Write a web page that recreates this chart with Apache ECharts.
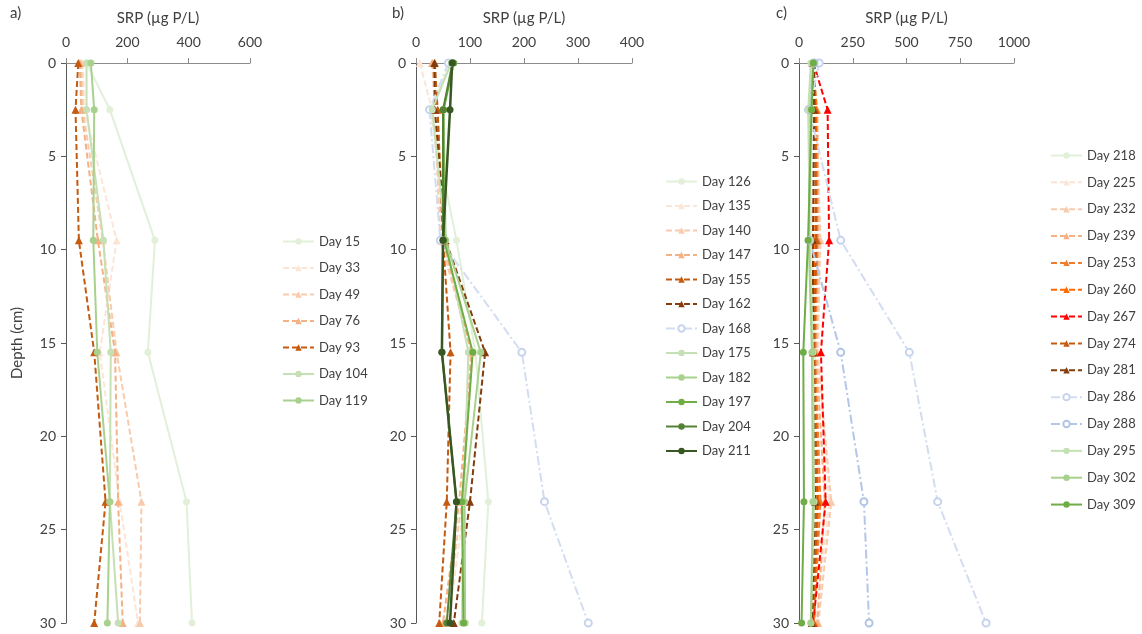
<!DOCTYPE html>
<html>
<head>
<meta charset="utf-8">
<script src="https://cdn.jsdelivr.net/npm/echarts@6/dist/echarts.min.js"></script>
<style>
html,body{margin:0;padding:0;background:#fff;}
#chart{width:1142px;height:634px;}
</style>
</head>
<body>
<div id="chart"></div>
<script>
// ---- data ----
const depths = [0, 2.5, 9.5, 15.5, 23.5, 30];

// panel a (SRP µg P/L)
const daysA = ['Day 15', 'Day 33', 'Day 49', 'Day 76', 'Day 93', 'Day 104', 'Day 119'];
const a15  = [67, 143, 290, 267, 393, 411];
const a33  = [55, 60, 165, 110, 175, 235];
const a49  = [50, 55, 120, 165, 246, 241];
const a76  = [45, 50, 104, 160, 170, 185];
const a93  = [40, 31, 42, 92, 129, 92];
const a104 = [67, 67, 122, 146, 143, 170];
const a119 = [81, 92, 89, 102, 143, 135];

// panel b
const daysB = ['Day 126', 'Day 135', 'Day 140', 'Day 147', 'Day 155', 'Day 162', 'Day 168', 'Day 175', 'Day 182', 'Day 197', 'Day 204', 'Day 211'];
const b126 = [65, 26, 75, 110, 134, 122];
const b135 = [7, 30, 50, 100, 90, 60];
const b140 = [30, 35, 45, 103, 85, 55];
const b147 = [30, 40, 50, 103, 80, 50];
const b155 = [35, 40, 50, 64, 57, 43];
const b162 = [34, 35, 55, 128, 100, 70];
const b168 = [60, 25, 45, 196, 238, 319];
const b175 = [65, 30, 55, 97, 88, 85];
const b182 = [67, 51, 55, 120, 90, 91];
const b197 = [70, 51, 52, 105, 85, 88];
const b204 = [68, 50, 50, 48, 75, 57];
const b211 = [67, 63, 50, 48, 75, 63];

// panel c
const daysC = ['Day 218', 'Day 225', 'Day 232', 'Day 239', 'Day 253', 'Day 260', 'Day 267', 'Day 274', 'Day 281', 'Day 286', 'Day 288', 'Day 295', 'Day 302', 'Day 309'];
const c218 = [60, 50, 60, 75, 65, 60];
const c225 = [60, 85, 95, 90, 140, 80];
const c232 = [62, 80, 100, 85, 150, 90];
const c239 = [65, 85, 90, 80, 120, 85];
const c253 = [65, 80, 85, 75, 100, 70];
const c260 = [68, 80, 75, 70, 90, 70];
const c267 = [67, 133, 140, 102, 124, 66];
const c274 = [70, 75, 80, 70, 85, 65];
const c281 = [70, 70, 65, 65, 75, 60];
const c286 = [94, 47, 194, 513, 645, 870];
const c288 = [70, 45, 50, 194, 302, 326];
const c295 = [55, 43, 50, 65, 70, 55];
const c302 = [65, 55, 45, 60, 65, 55];
const c309 = [67, 59, 42, 20, 23, 12];

// x-axis tick settings
const xMax = [600, 400, 1000];
const xStep = [200, 100, 250];

// ---- styles ----
const seriesA = [
  [daysA[0], a15, '#e2f0d9', 'dot'], [daysA[1], a33, '#fbe5d6', 'tri'], [daysA[2], a49, '#f8cbad', 'tri'],
  [daysA[3], a76, '#f4b183', 'tri'], [daysA[4], a93, '#c55a11', 'tri'], [daysA[5], a104, '#c5e0b4', 'dot'],
  [daysA[6], a119, '#a9d18e', 'dot']
];
const seriesB = [
  [daysB[0], b126, '#e2f0d9', 'dot'], [daysB[1], b135, '#fbe5d6', 'tri'], [daysB[2], b140, '#f8cbad', 'tri'],
  [daysB[3], b147, '#f4b183', 'tri'], [daysB[4], b155, '#c55a11', 'tri'], [daysB[5], b162, '#843c0c', 'tri'],
  [daysB[6], b168, '#d3ddf1', 'open', '#c6d4ee'], [daysB[7], b175, '#c5e0b4', 'dot'], [daysB[8], b182, '#a9d18e', 'dot'],
  [daysB[9], b197, '#70ad47', 'dot'], [daysB[10], b204, '#548235', 'dot'], [daysB[11], b211, '#385723', 'dotb']
];
const seriesC = [
  [daysC[0], c218, '#e2f0d9', 'dot'], [daysC[1], c225, '#fbe5d6', 'tri'], [daysC[2], c232, '#f8cbad', 'tri'],
  [daysC[3], c239, '#f4b183', 'tri'], [daysC[4], c253, '#ed7d31', 'tri'], [daysC[5], c260, '#ff6a00', 'tri'],
  [daysC[6], c267, '#ff0000', 'tri'], [daysC[7], c274, '#c55a11', 'tri'], [daysC[8], c281, '#843c0c', 'tri'],
  [daysC[9], c286, '#d3ddf1', 'open', '#c6d4ee'], [daysC[10], c288, '#b4c7e7', 'open', '#b0c4e6'], [daysC[11], c295, '#c5e0b4', 'dot'],
  [daysC[12], c302, '#a9d18e', 'dot'], [daysC[13], c309, '#70ad47', 'dot']
];

const FONT = 'Lato';
const TXT = '#404040';

function mkSeries(list, idx) {
  return list.map(([name, vals, color, kind, markColor]) => {
    const s = {
      name: name, type: 'line', xAxisIndex: idx, yAxisIndex: idx,
      data: vals.map((v, i) => [v, depths[i]]),
      color: color, showSymbol: true, animation: false,
      lineStyle: { color: color, width: 2 },
      itemStyle: { color: color }
    };
    if (kind === 'tri') {
      s.symbol = 'triangle'; s.symbolSize = 8;
      s.lineStyle.type = [6, 3];
    } else if (kind === 'open') {
      s.symbol = 'emptyCircle'; s.symbolSize = 7;
      s.lineStyle.type = [9, 3, 2, 3];
      s.itemStyle = { color: markColor, borderWidth: 1.1 };
    } else {
      s.symbol = 'circle'; s.symbolSize = 7;
      if (kind === 'dotb') s.lineStyle.width = 2.5;
    }
    return s;
  });
}

const grids = [
  { left: 66, top: 63, width: 184, height: 560 },
  { left: 416, top: 63, width: 216, height: 560 },
  { left: 799, top: 63, width: 215, height: 560 }
];

const xAxes = grids.map((g, i) => ({
  type: 'value', gridIndex: i, position: 'top', min: 0, max: xMax[i], interval: xStep[i],
  name: 'SRP (µg P/L)', nameLocation: 'middle', nameGap: 37,
  nameTextStyle: { fontFamily: FONT, fontSize: 15, color: TXT },
  axisLine: { show: true, lineStyle: { color: '#8c8c8c', width: 1 } },
  axisTick: { show: true, length: 5, lineStyle: { color: '#8c8c8c' } },
  axisLabel: { fontFamily: FONT, fontSize: 14, color: TXT, margin: 14, formatter: v => String(v) },
  splitLine: { show: false }
}));

const yAxes = grids.map((g, i) => ({
  type: 'value', gridIndex: i, inverse: true, min: 0, max: 30, interval: 5,
  name: i === 0 ? 'Depth (cm)' : '', nameLocation: 'middle', nameGap: 41,
  nameTextStyle: { fontFamily: FONT, fontSize: 15, color: TXT },
  axisLine: { show: true, lineStyle: { color: '#595959', width: 1 } },
  axisTick: { show: true, length: 5, lineStyle: { color: '#595959' } },
  axisLabel: { fontFamily: FONT, fontSize: 14, color: TXT, margin: 10 },
  splitLine: { show: false }
}));

const legendCommon = {
  orient: 'vertical', itemWidth: 31, itemHeight: 8,
  textStyle: { fontFamily: FONT, fontSize: 13, color: TXT }
};

const option = {
  backgroundColor: '#fff',
  animation: false,
  grid: grids,
  xAxis: xAxes,
  yAxis: yAxes,
  legend: [
    Object.assign({}, legendCommon, { left: 277, top: 230, itemGap: 13.5, data: daysA }),
    Object.assign({}, legendCommon, { left: 660, top: 170, itemGap: 11.5, data: daysB }),
    Object.assign({}, legendCommon, { left: 1045, top: 144, itemGap: 13.85, data: daysC })
  ],
  graphic: [
    { type: 'text', left: 10, top: 6, style: { text: 'a)', font: '15px Lato', fill: TXT } },
    { type: 'text', left: 392, top: 6, style: { text: 'b)', font: '15px Lato', fill: TXT } },
    { type: 'text', left: 776, top: 6, style: { text: 'c)', font: '15px Lato', fill: TXT } }
  ],
  series: [].concat(mkSeries(seriesA, 0), mkSeries(seriesB, 1), mkSeries(seriesC, 2))
};

const chart = echarts.init(document.getElementById('chart'), null, { renderer: 'canvas' });
chart.setOption(option);
</script>
</body>
</html>
